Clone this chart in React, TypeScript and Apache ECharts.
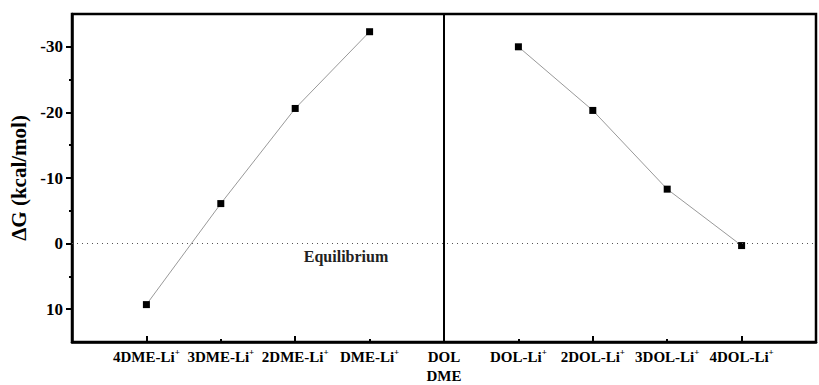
import React, { useEffect, useRef } from 'react';
import * as echarts from 'echarts';

const categories = ['', '4DME-Li+', '3DME-Li+', '2DME-Li+', 'DME-Li+', 'DOL\nDME', 'DOL-Li+', '2DOL-Li+', '3DOL-Li+', '4DOL-Li+', ''];
const dmeCategories = ['4DME-Li+', '3DME-Li+', '2DME-Li+', 'DME-Li+'];
const dmeValues = [9.3, -6.1, -20.6, -32.3];
const dolCategories = ['DOL-Li+', '2DOL-Li+', '3DOL-Li+', '4DOL-Li+'];
const dolValues = [-30.0, -20.3, -8.3, 0.3];
const yMajorTicks = [-30, -20, -10, 0, 10];
const yMinorTicks = [-25, -15, -5, 5];
const dividerCategory = 'DOL\nDME';
const equilibriumValue = 0;
const equilibriumLabel = 'Equilibrium';
const yAxisName = 'ΔG (kcal/mol)';

const FONT = 'Liberation Serif';

export default function App() {
  const ref = useRef<HTMLDivElement>(null);
  useEffect(() => {
    if (!ref.current) return;
    const chart = echarts.init(ref.current, null, { renderer: 'svg' });
    const labelFormatter = (v: string) => {
      if (!v) return '';
      if (v.indexOf('\n') >= 0) return v.split('\n').map((s) => '{a|' + s + '}').join('\n');
      if (v.endsWith('+')) return '{a|' + v.slice(0, -1) + '}{s|+}';
      return '{a|' + v + '}';
    };
    const dividerIndex = categories.indexOf(dividerCategory);
    const option: any = {
      animation: false,
      backgroundColor: '#fff',
      textStyle: { fontFamily: FONT },
      grid: {
        left: 72,
        top: 14,
        width: 758,
        height: 328,
        show: true,
        borderColor: '#000',
        borderWidth: 2.5,
        containLabel: false,
      },
      xAxis: [
        {
          type: 'category',
          data: categories,
          boundaryGap: false,
          axisLine: { show: true, onZero: false, lineStyle: { color: '#000', width: 2.5 } },
          axisTick: {
            show: true,
            inside: true,
            length: 6,
            interval: (i: number) => i % 2 === 1,
            lineStyle: { color: '#000', width: 2 },
          },
          axisLabel: {
            interval: 0,
            margin: 5,
            formatter: labelFormatter,
            rich: {
              a: { fontFamily: FONT, fontWeight: 'bold', fontSize: 15, color: '#000', lineHeight: 19 },
              s: { fontFamily: FONT, fontWeight: 'bold', fontSize: 9, color: '#000', lineHeight: 9, verticalAlign: 'top' },
            },
          },
          splitLine: { show: false },
        },
        {
          type: 'category',
          data: categories,
          boundaryGap: false,
          position: 'bottom',
          axisLine: { show: false, onZero: false },
          axisTick: {
            show: true,
            inside: true,
            length: 3,
            interval: (i: number) => i % 2 === 0 && i > 0 && i < categories.length - 1,
            lineStyle: { color: '#000', width: 2 },
          },
          axisLabel: { show: false },
          splitLine: { show: false },
        },
      ],
      yAxis: [
        {
          type: 'value',
          inverse: true,
          min: -35,
          max: 15,
          name: yAxisName,
          nameLocation: 'middle',
          nameGap: 40,
          nameTextStyle: { fontFamily: FONT, fontWeight: 'bold', fontSize: 21, color: '#000' },
          axisLine: { show: true, onZero: false, lineStyle: { color: '#000', width: 2.5 } },
          axisTick: { show: true, inside: false, length: 6, customValues: yMajorTicks, lineStyle: { color: '#000', width: 2 } },
          axisLabel: {
            customValues: yMajorTicks,
            margin: 9,
            fontFamily: FONT,
            fontWeight: 'bold',
            fontSize: 17,
            color: '#000',
          },
          splitLine: { show: false },
        },
        {
          type: 'value',
          inverse: true,
          min: -35,
          max: 15,
          position: 'left',
          axisLine: { show: false, onZero: false },
          axisTick: { show: true, inside: false, length: 3, customValues: yMinorTicks, lineStyle: { color: '#000', width: 2 } },
          axisLabel: { show: false },
          splitLine: { show: false },
        },
      ],
      series: [
        {
          type: 'line',
          name: 'DME',
          data: dmeCategories.map((c, i) => [c, dmeValues[i]]),
          symbol: 'rect',
          symbolSize: 7,
          itemStyle: { color: '#000' },
          lineStyle: { color: '#999', width: 1 },
          markLine: {
            silent: true,
            symbol: 'none',
            label: { show: false },
            data: [
              { xAxis: dividerIndex, lineStyle: { color: '#000', type: 'solid', width: 2 } },
              { yAxis: equilibriumValue, lineStyle: { color: '#555', type: [1, 4], width: 1 } },
            ],
          },
        },
        {
          type: 'line',
          name: 'DOL',
          data: dolCategories.map((c, i) => [c, dolValues[i]]),
          symbol: 'rect',
          symbolSize: 7,
          itemStyle: { color: '#000' },
          lineStyle: { color: '#999', width: 1 },
        },
      ],
      graphic: [
        {
          type: 'text',
          x: 346,
          y: 256,
          style: {
            text: equilibriumLabel,
            fontFamily: FONT,
            fontWeight: 'bold',
            fontSize: 16,
            fill: '#222',
            textAlign: 'center',
            textVerticalAlign: 'middle',
          },
        },
      ],
    };
    chart.setOption(option);
    return () => chart.dispose();
  }, []);
  return <div ref={ref} style={{ position: 'absolute', left: 0, top: 0, width: 819, height: 385 }} />;
}
